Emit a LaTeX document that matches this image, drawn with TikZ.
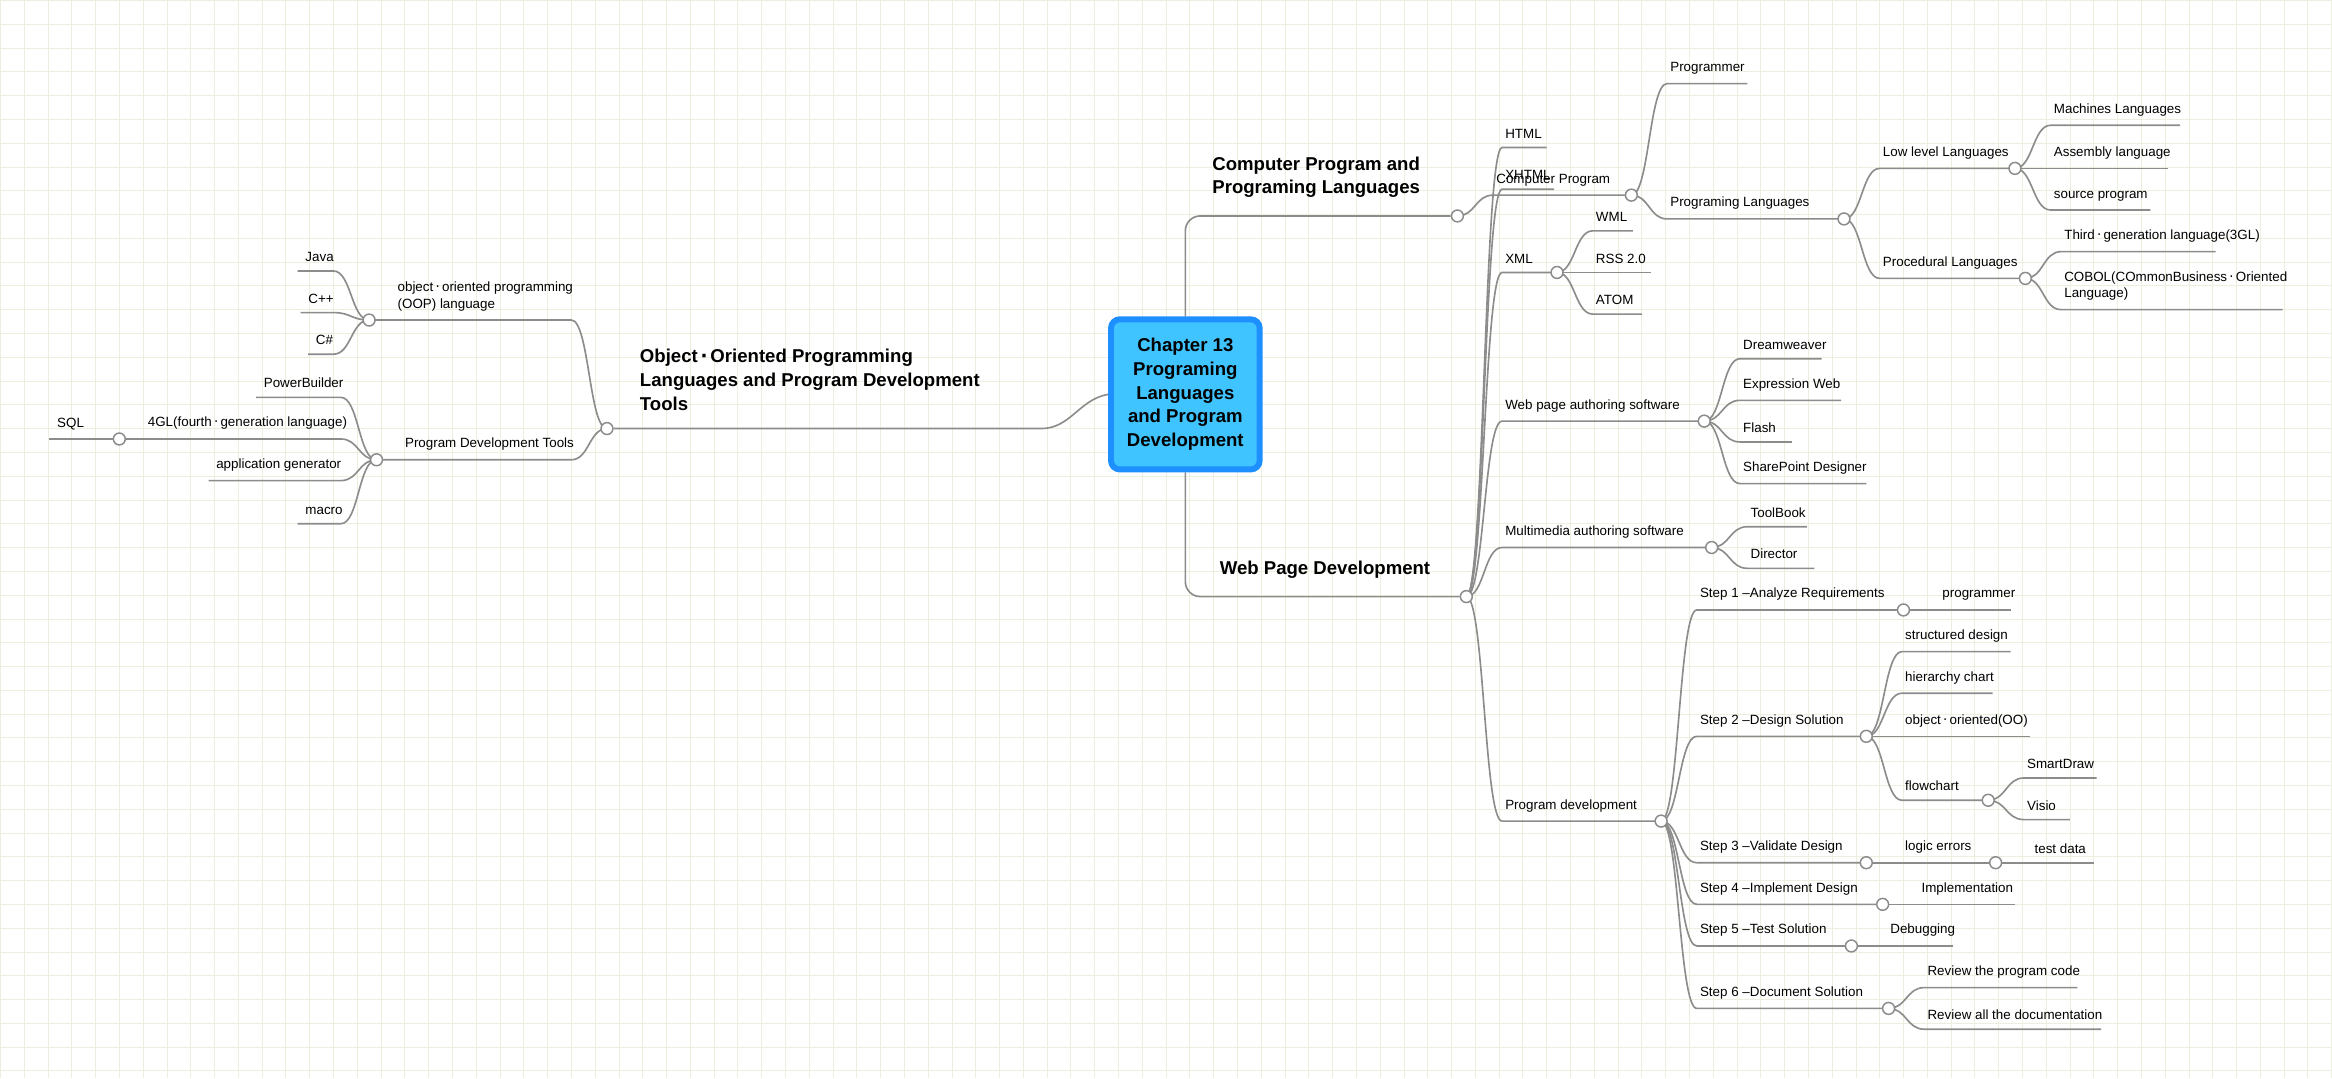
\documentclass[tikz,border=0pt]{standalone}
\usepackage{fontspec}
\setmainfont{Liberation Sans}
\newfontfamily\dvfont{DejaVu Sans}
\newcommand\hpt{\,{\dvfont ‧}\,}
\usetikzlibrary{positioning,calc,backgrounds}
\definecolor{gridgreen}{HTML}{E9F1DE}
\definecolor{linegray}{HTML}{8C8C8C}
\definecolor{rootfill}{HTML}{40C4FF}
\definecolor{rootdraw}{HTML}{1E8FFF}

\tikzset{
    link/.style={draw=linegray,line width=1.1pt},
    dot/.style={circle,draw=linegray,fill=white,line width=1pt,minimum size=8pt,inner sep=0pt},
    lbl/.style={anchor=south west,inner sep=0pt,align=left,font=\fontsize{9}{11}\selectfont},
    topic/.style={anchor=south west,inner sep=0pt,align=left,font=\fontsize{12.5}{16}\selectfont\bfseries},
}

% curved connector from a dot to the right / to the left
\newcommand\rlink[2]{\begin{pgfonlayer}{background}\draw[link] let \p1=(#1), \p2=(#2) in
    (\p1) .. controls (\x1+12pt,\y1) and (\x1+12pt,\y2) .. (\x1+24pt,\y2) -- (\p2);\end{pgfonlayer}}
\newcommand\llink[2]{\begin{pgfonlayer}{background}\draw[link] let \p1=(#1), \p2=(#2) in
    (\p1) .. controls (\x1-12pt,\y1) and (\x1-12pt,\y2) .. (\x1-24pt,\y2) -- (\p2);\end{pgfonlayer}}
% right side: parent, name, y, x, text
\newcommand\rleaf[5]{\coordinate (#2) at (#4,#3);
    \node[lbl] (#2-t) at ($(#1|-#2)+(26,-6)$) {#5};\rlink{#1}{#2}}
\newcommand\rmid[5]{\node[dot] (#2) at (#4,#3) {};
    \node[lbl] (#2-t) at ($(#1|-#2)+(26,-6)$) {#5};\rlink{#1}{#2}}
% left side
\newcommand\lleaf[5]{\coordinate (#2) at (#4,#3);
    \node[lbl] (#2-t) at ($(#2)+(5,-6)$) {#5};\llink{#1}{#2}}
\newcommand\lmid[5]{\node[dot] (#2) at (#4,#3) {};
    \node[lbl] (#2-t) at ($(#2)+(19,-6)$) {#5};\llink{#1}{#2}}

\begin{document}
\begin{tikzpicture}[x=1pt,y=-1pt]
    % paper with grid
    \begin{pgfonlayer}{background}
    \fill[white] (0,0) rectangle (1568,725);
    \draw[gridgreen,line width=0.5pt,step=16pt] (0,0) grid (1568,725);
    \end{pgfonlayer}
    \useasboundingbox (0,0) rectangle (1568,725);

    % central topic
    \node[rectangle,rounded corners=6pt,fill=rootfill,draw=rootdraw,line width=4pt,
          minimum width=100pt,minimum height=101pt,align=center,
          font=\fontsize{12.5}{16}\selectfont\bfseries] (root) at (797,265)
          {Chapter 13\\Programing\\Languages\\and Program\\Development};

    % main branches
    \node[dot] (cpl) at (980,145) {};
    \node[dot] (wpd) at (986,401) {};
    \node[dot] (oop) at (408,288) {};
    \coordinate (oopk) at (700,288);
    \begin{pgfonlayer}{background}
    \draw[link,rounded corners=10pt] (root.north) |- (cpl);
    \draw[link,rounded corners=10pt] (root.south) |- (wpd);
    \draw[link] (root.west) to[out=190,in=0] (oopk) -- (oop);
    \end{pgfonlayer}
    \node[topic] (cpl-t) at (815,133) {Computer Program and\\Programing Languages};
    \node[topic] (wpd-t) at (820,389) {Web Page Development};
    \node[topic] (oop-t) at (430,276) {Object\hpt Oriented Programming\\Languages and Program Development\\Tools};

    % Computer Program and Programing Languages
    \rmid{cpl}{cp}{131}{1097}{Computer Program}
    \rleaf{cp}{prog}{56}{1175}{Programmer}
    \rmid{cp}{pl}{147}{1240}{Programing Languages}
    \rmid{pl}{low}{113}{1355}{Low level Languages}
    \rmid{pl}{proc}{187}{1362}{Procedural Languages}
    \rleaf{low}{mach}{84}{1466}{Machines Languages}
    \rleaf{low}{asm}{113}{1458}{Assembly language}
    \rleaf{low}{src}{141}{1446}{source program}
    \rleaf{proc}{third}{169}{1490}{Third\hpt generation language(3GL)}
    \rleaf{proc}{cobol}{208}{1535}{COBOL(COmmonBusiness\hpt Oriented\\Language)}

    % Web Page Development
    \rleaf{wpd}{html}{99}{1040}{HTML}
    \rleaf{wpd}{xhtml}{127}{1045}{XHTML}
    \rmid{wpd}{xml}{183}{1047}{XML}
    \rleaf{xml}{wml}{155}{1098}{WML}
    \rleaf{xml}{rss}{183}{1110}{RSS 2.0}
    \rleaf{xml}{atom}{211}{1104}{ATOM}
    \rmid{wpd}{wpa}{283}{1146}{Web page authoring software}
    \rleaf{wpa}{dw}{241}{1225}{Dreamweaver}
    \rleaf{wpa}{ew}{269}{1238}{Expression Web}
    \rleaf{wpa}{flash}{297}{1205}{Flash}
    \rleaf{wpa}{spd}{325}{1255}{SharePoint Designer}
    \rmid{wpd}{mma}{368}{1151}{Multimedia authoring software}
    \rleaf{mma}{tb}{354}{1215}{ToolBook}
    \rleaf{mma}{dir}{382}{1220}{Director}
    \rmid{wpd}{pd}{552}{1117}{Program development}

    % Program development steps
    \rmid{pd}{s1}{410}{1280}{Step 1 –Analyze Requirements}
    \rleaf{s1}{pgmr}{410}{1352}{programmer}
    \rmid{pd}{s2}{495}{1255}{Step 2 –Design Solution}
    \rleaf{s2}{sd}{438}{1352}{structured design}
    \rleaf{s2}{hc}{466}{1340}{hierarchy chart}
    \rleaf{s2}{oo}{495}{1365}{object\hpt oriented(OO)}
    \rmid{s2}{fc}{538}{1337}{flowchart}
    \rleaf{fc}{sdraw}{523}{1410}{SmartDraw}
    \rleaf{fc}{visio}{551}{1392}{Visio}
    \rmid{pd}{s3}{580}{1255}{Step 3 –Validate Design}
    \rmid{s3}{le}{580}{1342}{logic errors}
    \rleaf{le}{td}{580}{1408}{test data}
    \rmid{pd}{s4}{608}{1266}{Step 4 –Implement Design}
    \rleaf{s4}{impl}{608}{1355}{Implementation}
    \rmid{pd}{s5}{636}{1245}{Step 5 –Test Solution}
    \rleaf{s5}{dbg}{636}{1313}{Debugging}
    \rmid{pd}{s6}{678}{1270}{Step 6 –Document Solution}
    \rleaf{s6}{rpc}{664}{1397}{Review the program code}
    \rleaf{s6}{rad}{692}{1413}{Review all the documentation}

    % Object-Oriented Programming Languages and Program Development Tools
    \lmid{oop}{ool}{215}{248}{object\hpt oriented programming\\(OOP) language}
    \lleaf{ool}{java}{182}{200}{Java}
    \lleaf{ool}{cpp}{210}{202}{C++}
    \lleaf{ool}{cs}{238}{207}{C\#}
    \lmid{oop}{pdt}{309}{253}{Program Development Tools}
    \lleaf{pdt}{pb}{267}{172}{PowerBuilder}
    \lmid{pdt}{gl}{295}{80}{4GL(fourth\hpt generation language)}
    \lleaf{gl}{sql}{295}{33}{SQL}
    \lleaf{pdt}{ag}{323}{140}{application generator}
    \lleaf{pdt}{macro}{352}{200}{macro}
\end{tikzpicture}
\end{document}
